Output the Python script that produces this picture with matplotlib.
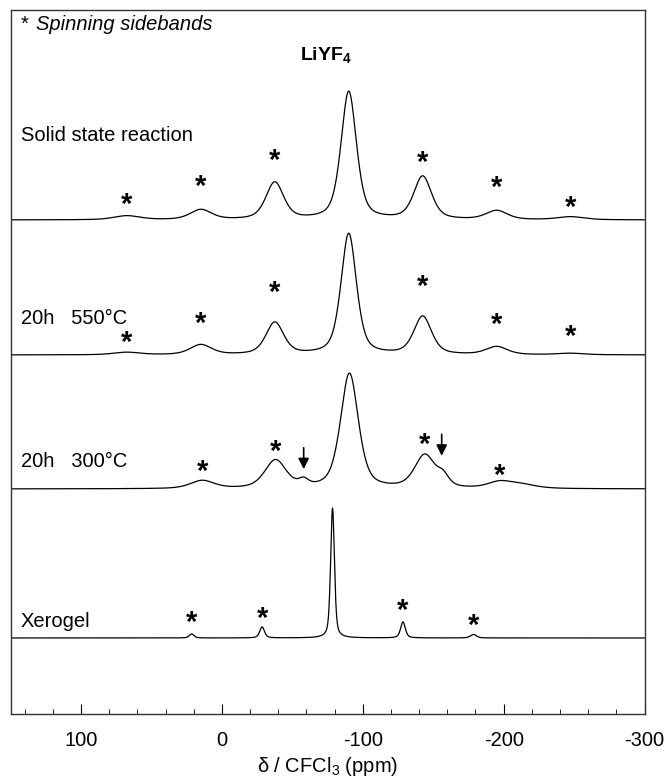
import numpy as np
import matplotlib
matplotlib.use('Agg')
from matplotlib import pyplot as plt

plt.rcParams['font.family'] = ['Liberation Sans', 'DejaVu Sans']
plt.rcParams['mathtext.fontset'] = 'custom'
plt.rcParams['mathtext.rm'] = 'Liberation Sans'
plt.rcParams['mathtext.it'] = 'Liberation Sans:italic'
plt.rcParams['mathtext.bf'] = 'Liberation Sans:bold'
plt.rcParams['axes.unicode_minus'] = False

# 19F MAS spectra of LiYF4, one line per sample
# peaks: position (ppm), height, width (fwhm, ppm)
solid_pos = [-90, -37.5, -142.5, 15, -195, 67.5, -247.5]
solid_amp = [128, 37, 43, 10, 9, 4, 3]
solid_fwhm = [13, 15, 15, 18, 18, 22, 22]

c550_pos = [-90, -37.5, -142.5, 15, -195, 67.5, -247.5]
c550_amp = [121, 32, 38, 10, 8, 2.5, 1.5]
c550_fwhm = [13, 15, 15, 18, 18, 22, 22]

c300_pos = [-90.5, -38, -144, 14, -197, -58, -157, -212]
c300_amp = [115, 28, 33, 8, 6, 6, 10, 4]
c300_fwhm = [15, 18, 17, 20, 20, 8, 10, 25]

xero_pos = [-78.5, 21.5, -28.5, -128.5, -178.5]
xero_amp = [130, 4, 11, 16, 3.5]
xero_fwhm = [3.2, 4, 4, 4, 5]

labels = ['Solid state reaction', '20h   550\u00b0C', '20h   300\u00b0C', 'Xerogel']
offsets = [494, 359, 225, 76]

# sidebands marked with a star
solid_stars = [67.5, 15, -37.5, -142.5, -195, -247.5]
c550_stars = [67.5, 15, -37.5, -142.5, -195, -247.5]
c300_stars = [14, -38, -144, -197]
xero_stars = [21.5, -28.5, -128.5, -178.5]

# how far each star sits above its sideband
solid_gap = [11, 22, 21, 13, 22, 9]
c550_gap = [9, 20, 29, 29, 21, 16]
c300_gap = [8, 8, 9, 5]
xero_gap = [11, 8, 11, 9]

# extra phase marked with arrows (300 C sample)
arrow_ppm = [-58, -156]


def spectrum(x, pos, amp, fwhm, eta=0.5):
    y = np.zeros_like(x)
    for p, a, w in zip(pos, amp, fwhm):
        g = np.exp(-4 * np.log(2) * ((x - p) / w) ** 2)
        l = 1 / (1 + 4 * ((x - p) / w) ** 2)
        y += a * (eta * l + (1 - eta) * g)
    return y


x = np.linspace(150, -300, 4000)
specs = [(solid_pos, solid_amp, solid_fwhm, solid_stars, solid_gap),
         (c550_pos, c550_amp, c550_fwhm, c550_stars, c550_gap),
         (c300_pos, c300_amp, c300_fwhm, c300_stars, c300_gap),
         (xero_pos, xero_amp, xero_fwhm, xero_stars, xero_gap)]

fig = plt.figure(figsize=(6.69, 7.82), dpi=100)
ax = fig.add_axes([0.016, 0.087, 0.9474, 0.9002])

curves = []
for (pos, amp, fw, stars, gaps), off in zip(specs, offsets):
    y = spectrum(x, pos, amp, fw) + off
    curves.append(y)
    ax.plot(x, y, color='k', lw=0.9)
    for s, gp in zip(stars, gaps):
        ys = np.interp(s, x[::-1], y[::-1])
        ax.text(s, ys + gp, '*', fontsize=21, fontweight='bold',
                ha='center', va='center')

ax.text(143, offsets[0] + 85, labels[0], fontsize=14.5, va='center')
ax.text(143, offsets[1] + 36, labels[1], fontsize=14.5, va='center')
ax.text(143, offsets[2] + 27, labels[2], fontsize=14.5, va='center')
ax.text(143, offsets[3] + 16, labels[3], fontsize=14.5, va='center')

y300 = curves[2]
for a, gap in zip(arrow_ppm, [5, 10]):
    yt = np.interp(a, x[::-1], y300[::-1]) + gap
    ax.annotate('', xy=(a, yt), xytext=(a, yt + 27),
                arrowprops=dict(arrowstyle='-|>', color='k', lw=1.2,
                                mutation_scale=16))

ax.text(143, 690, '*', fontsize=14.5, va='center')
ax.text(132, 690, 'Spinning sidebands', fontsize=14.5, style='italic',
        va='center')
ax.text(-74, 659, r'$\mathbf{LiYF}_\mathbf{4}$', fontsize=14, ha='center',
        va='center')

ax.set_xlim(150, -300)
ax.set_ylim(0, 704)
ax.set_yticks([])
ax.set_xticks([100, 0, -100, -200, -300])
ax.set_xticks(np.arange(140, -300, -20), minor=True)
ax.tick_params(axis='x', which='major', direction='in', length=7,
               labelsize=14.5, pad=12)
ax.tick_params(axis='x', which='minor', direction='in', length=3.5)
ax.set_xlabel('\u03b4 / CFCl$_3$ (ppm)', fontsize=14.5, labelpad=4)
for sp in ax.spines.values():
    sp.set_color('#333333')
    sp.set_linewidth(1.0)

fig.savefig('out.png', dpi=100)
